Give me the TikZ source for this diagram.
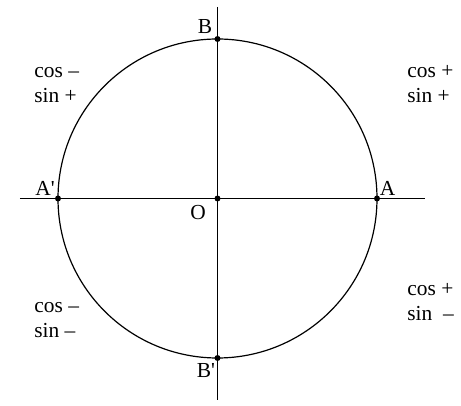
\documentclass[tikz,border=0pt]{standalone}
\usepackage{fontspec}
\setmainfont{Liberation Serif}
\usepackage{tikz}
\usetikzlibrary{positioning}

\begin{document}
\begin{tikzpicture}[x=0.5pt, y=0.5pt,
    axis/.style={draw, line width=0.6pt},
    pt/.style={circle, fill, inner sep=0pt, minimum size=3pt},
    lbl/.style={font=\fontsize{10.7}{12.5}\selectfont, inner sep=0pt},
    sgn/.style={lbl, anchor=base west}
]
    \useasboundingbox (-217.5,-207.5) rectangle (243.5,198.5);

    % axes and circle
    \coordinate (xl) at (-197.5,0);
    \coordinate (xr) at (207.5,0);
    \coordinate (yt) at (0,191.5);
    \coordinate (yb) at (0,-201.5);
    \draw[axis] (xl) -- (xr);
    \draw[axis] (yt) -- (yb);
    \draw[axis] (0,0) circle[radius=159.5];

    \node[pt] (o) at (0,0) {};
    \node[pt] (a) at (159.5,0) {};
    \node[pt] (a1) at (-159.5,0) {};
    \node[pt] (b) at (0,159.5) {};
    \node[pt] (b1) at (0,-159.5) {};

    \node[lbl] (lo) at (-19.5,-14.5) {O};
    \node[lbl] (la) at (170,10) {A};
    \node[lbl] (la1) at (-172.5,10) {A\textquotesingle};
    \node[lbl] (lb) at (-12.5,171.5) {B};
    \node[lbl] (lb1) at (-11.5,-172) {B\textquotesingle};

    % signs in each quadrant
    \node[sgn] (c1) at (189.5,120.5) {cos +};
    \node[sgn] (s1) at (189.5,95.5) {sin +};
    \node[sgn] (c2) at (-183.5,120.5) {cos --};
    \node[sgn] (s2) at (-183.5,95.5) {sin +};
    \node[sgn] (c3) at (-183.5,-114.5) {cos --};
    \node[sgn] (s3) at (-183.5,-139.5) {sin --};
    \node[sgn] (c4) at (189.5,-97.5) {cos +};
    \node[sgn] (s4) at (189.5,-122.5) {sin\ \ --};
\end{tikzpicture}
\end{document}
